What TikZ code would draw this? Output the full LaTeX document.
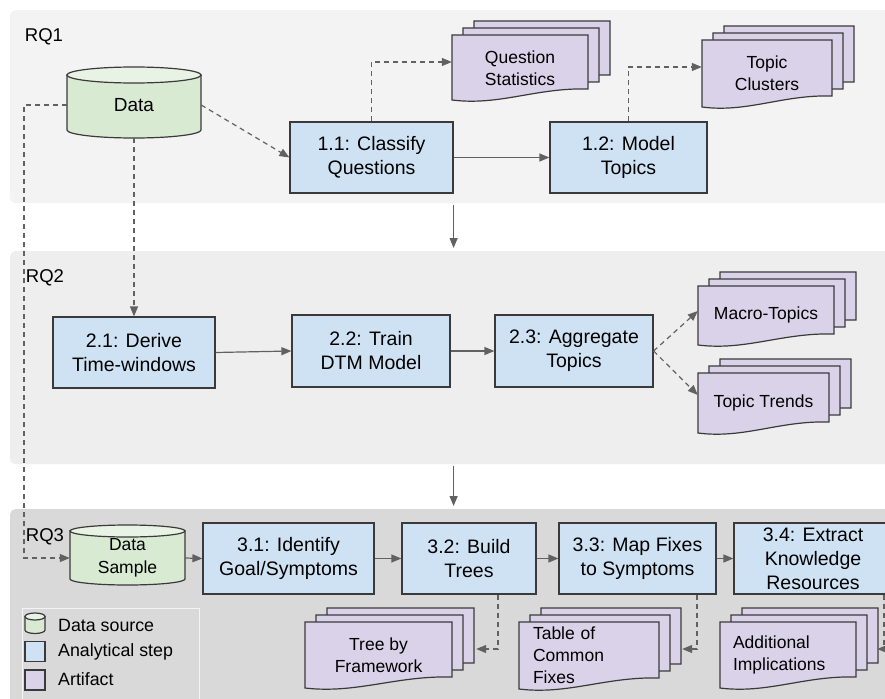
\documentclass[tikz,border=0pt]{standalone}
\usepackage{fontspec}
\setmainfont{Liberation Sans}
\usetikzlibrary{arrows.meta,calc}
\definecolor{pA}{HTML}{F3F3F3}
\definecolor{pB}{HTML}{EEEEEE}
\definecolor{pC}{HTML}{D9D9D9}
\definecolor{stepc}{HTML}{CFE2F3}
\definecolor{artc}{HTML}{D9D2E9}
\definecolor{datac}{HTML}{D9EAD3}
\definecolor{datatop}{HTML}{E8F2E5}
\definecolor{edgec}{HTML}{3A3A3A}
\definecolor{arrc}{HTML}{616161}
\definecolor{legline}{HTML}{F4F4F4}
\newcommand{\cylshape}[5]{%
 \filldraw[fill=datac, draw=edgec, line width=1.2pt] (#1-#4,#2) -- (#1-#4,#3) arc[start angle=180,end angle=0,x radius=#4,y radius=#5] -- (#1+#4,#2) -- cycle;
 \filldraw[fill=datatop, draw=edgec, line width=1.2pt] (#1,#2) ellipse [x radius=#4, y radius=#5];}
\newcommand{\artpage}[4]{%
 \filldraw[fill=artc, draw=edgec, line width=1.2pt] (#1,#2) -- (#1+#3,#2) -- (#1+#3,#2+#4-11)
  .. controls (#1+0.62*#3,#2+#4-12.5) and (#1+0.35*#3,#2+#4+6) .. (#1,#2+#4) -- cycle;}
\newcommand{\artstack}[4]{\artpage{#1+22}{#2-14}{#3}{#4}\artpage{#1+11}{#2-7}{#3}{#4}\artpage{#1}{#2}{#3}{#4}}
\begin{document}
\begin{tikzpicture}[x=1pt,y=-1pt,
  panel/.style={rounded corners=5pt, draw=none, anchor=north west, inner sep=0},
  rqlabel/.style={font=\fontsize{18.5}{22}\selectfont, inner sep=0},
  stepbox/.style={draw=edgec, line width=1.2pt, fill=stepc, align=center, inner sep=0, font=\fontsize{19.5}{24}\selectfont},
  arttext/.style={font=\fontsize{17.5}{22}\selectfont, align=center, inner sep=0, minimum height=40pt},
  datatext/.style={align=center, inner sep=0},
  legtext/.style={font=\fontsize{17.8}{22}\selectfont, inner sep=0, anchor=west},
  arr/.style={draw=arrc, line width=1.2pt, -{Triangle[length=10pt,width=8pt]}},
  dasharr/.style={arr, dash pattern=on 5pt off 4pt}]
\clip (0,0) rectangle (885,698);
\fill[white] (0,0) rectangle (885,698);
% panels
\node[panel, fill=pA, minimum width=890pt, minimum height=193pt] (rq1) at (10,10) {};
\node[panel, fill=pB, minimum width=890pt, minimum height=213pt] (rq2) at (10,251) {};
\node[panel, fill=pC, minimum width=890pt, minimum height=200pt] (rq3) at (10,509) {};
\node[rqlabel] (t1) at (44,37) {RQ1};
\node[rqlabel] (t2) at (45,278) {RQ2};
\node[rqlabel] (t3) at (45,537) {RQ3};
% RQ1
\cylshape{134}{75}{130}{67}{8}
\node[datatext, font=\fontsize{19}{23}\selectfont, minimum width=134pt, minimum height=66pt] (data) at (134,105) {Data};
\node[stepbox, minimum width=163pt, minimum height=71pt] (s11) at (371.5,157.5) {1.1: Classify\\Questions};
\node[stepbox, minimum width=157pt, minimum height=71pt] (s12) at (628.5,157.5) {1.2: Model\\Topics};
\artstack{452}{35}{136}{65}
\node[arttext, minimum width=136pt] (qs) at (520,68) {Question\\Statistics};
\artstack{702}{40}{130}{67}
\node[arttext, minimum width=130pt] (tc) at (767,73) {Topic\\Clusters};
% RQ2
\node[stepbox, minimum width=162pt, minimum height=71pt] (s21) at (134,352.5) {2.1: Derive\\Time-windows};
\node[stepbox, minimum width=158pt, minimum height=72pt] (s22) at (371,351) {2.2: Train\\DTM Model};
\node[stepbox, minimum width=158pt, minimum height=72pt] (s23) at (574,351) {2.3: Aggregate\\Topics};
\artstack{698}{286}{136}{59}
\node[arttext, minimum width=136pt] (mt) at (766,315) {Macro-Topics};
\artstack{698}{373}{131}{60}
\node[arttext, minimum width=131pt] (tt) at (763.5,403) {Topic Trends};
% RQ3
\cylshape{127.5}{531}{579}{57.5}{6}
\node[datatext, font=\fontsize{17.5}{23}\selectfont, minimum width=115pt, minimum height=60pt] (ds) at (127.5,558) {Data\\Sample};
\node[stepbox, minimum width=171pt, minimum height=71pt] (s31) at (288.5,558.5) {3.1: Identify\\Goal/Symptoms};
\node[stepbox, minimum width=134pt, minimum height=71pt] (s32) at (469,558.5) {3.2: Build\\Trees};
\node[stepbox, minimum width=157pt, minimum height=71pt] (s33) at (637.5,558.5) {3.3: Map Fixes\\to Symptoms};
\node[stepbox, minimum width=158pt, minimum height=71pt] (s34) at (813,558.5) {3.4: Extract\\Knowledge\\Resources};
\artstack{305}{622}{147}{66}
\node[arttext, minimum width=147pt] (tf) at (378.5,655) {Tree by\\Framework};
\artstack{519}{622}{140}{67}
\node[arttext, text width=112pt, align=left, inner xsep=14pt] (cf) at (589,655) {Table of\\Common\\Fixes};
\artstack{720}{622}{136}{66}
\node[arttext, text width=110pt, align=left, inner xsep=13pt] (ai) at (788,655) {Additional\\Implications};
% legend
\node[draw=legline, line width=0.8pt, anchor=north west, minimum width=177pt, minimum height=100pt, inner sep=0] (leg) at (22,608) {};
\cylshape{35}{616.5}{630}{10}{3.5}
\node[minimum size=20pt, inner sep=0] (lg1) at (35,624) {};
\node[draw=edgec, fill=stepc, line width=1.2pt, minimum size=20pt, inner sep=0] (lg2) at (35,651.5) {};
\node[draw=edgec, fill=artc, line width=1.2pt, minimum size=20pt, inner sep=0] (lg3) at (35,680) {};
\node[legtext] (lt1) at (58,625) {Data source};
\node[legtext] (lt2) at (58,652) {Analytical step};
\node[legtext] (lt3) at (58,679) {Artifact};
% connectors RQ1
\draw[dasharr] (data.east) -- (s11.west);
\draw[dasharr] (s11.north) |- ([yshift=6pt]qs.west);
\draw[arr] (s11.east) -- (s12.west);
\draw[dasharr] (s12.north) |- ([yshift=6pt]tc.west);
\path (rq1.south -| s11.east) ++(0,2) coordinate (a1);
\path (rq2.north -| s11.east) ++(0,-3) coordinate (a2);
\draw[arr] (a1) -- (a2);
\path (rq2.south -| s11.east) ++(0,2) coordinate (b1);
\path (rq3.north -| s11.east) ++(0,-3) coordinate (b2);
\draw[arr] (b1) -- (b2);
\coordinate (bend) at (24,558);
\draw[dasharr] (data.west) -| (bend) -- (ds.west);
\draw[dasharr] (data.south) -- (s21.north);
% RQ2
\draw[arr] (s21.east) -- (s22.west);
\draw[arr] (s22.east) -- (s23.west);
\draw[dasharr] (s23.east) -- ([yshift=4pt]mt.west);
\draw[dasharr] (s23.east) -- ([yshift=8pt]tt.west);
% RQ3
\draw[arr] (ds.east) -- (s31.west);
\draw[arr] (s31.east) -- (s32.west);
\draw[arr] (s32.east) -- (s33.west);
\draw[arr] (s33.east) -- (s34.west);
\draw[dasharr] ([xshift=29pt]s32.south) |- ([xshift=24pt,yshift=6pt]tf.east);
\draw[dasharr] ([xshift=59.5pt]s33.south) |- ([xshift=23pt,yshift=6pt]cf.east);
\draw[dasharr] ([xshift=71pt]s34.south) |- ([xshift=21pt,yshift=6pt]ai.east);
\end{tikzpicture}
\end{document}
